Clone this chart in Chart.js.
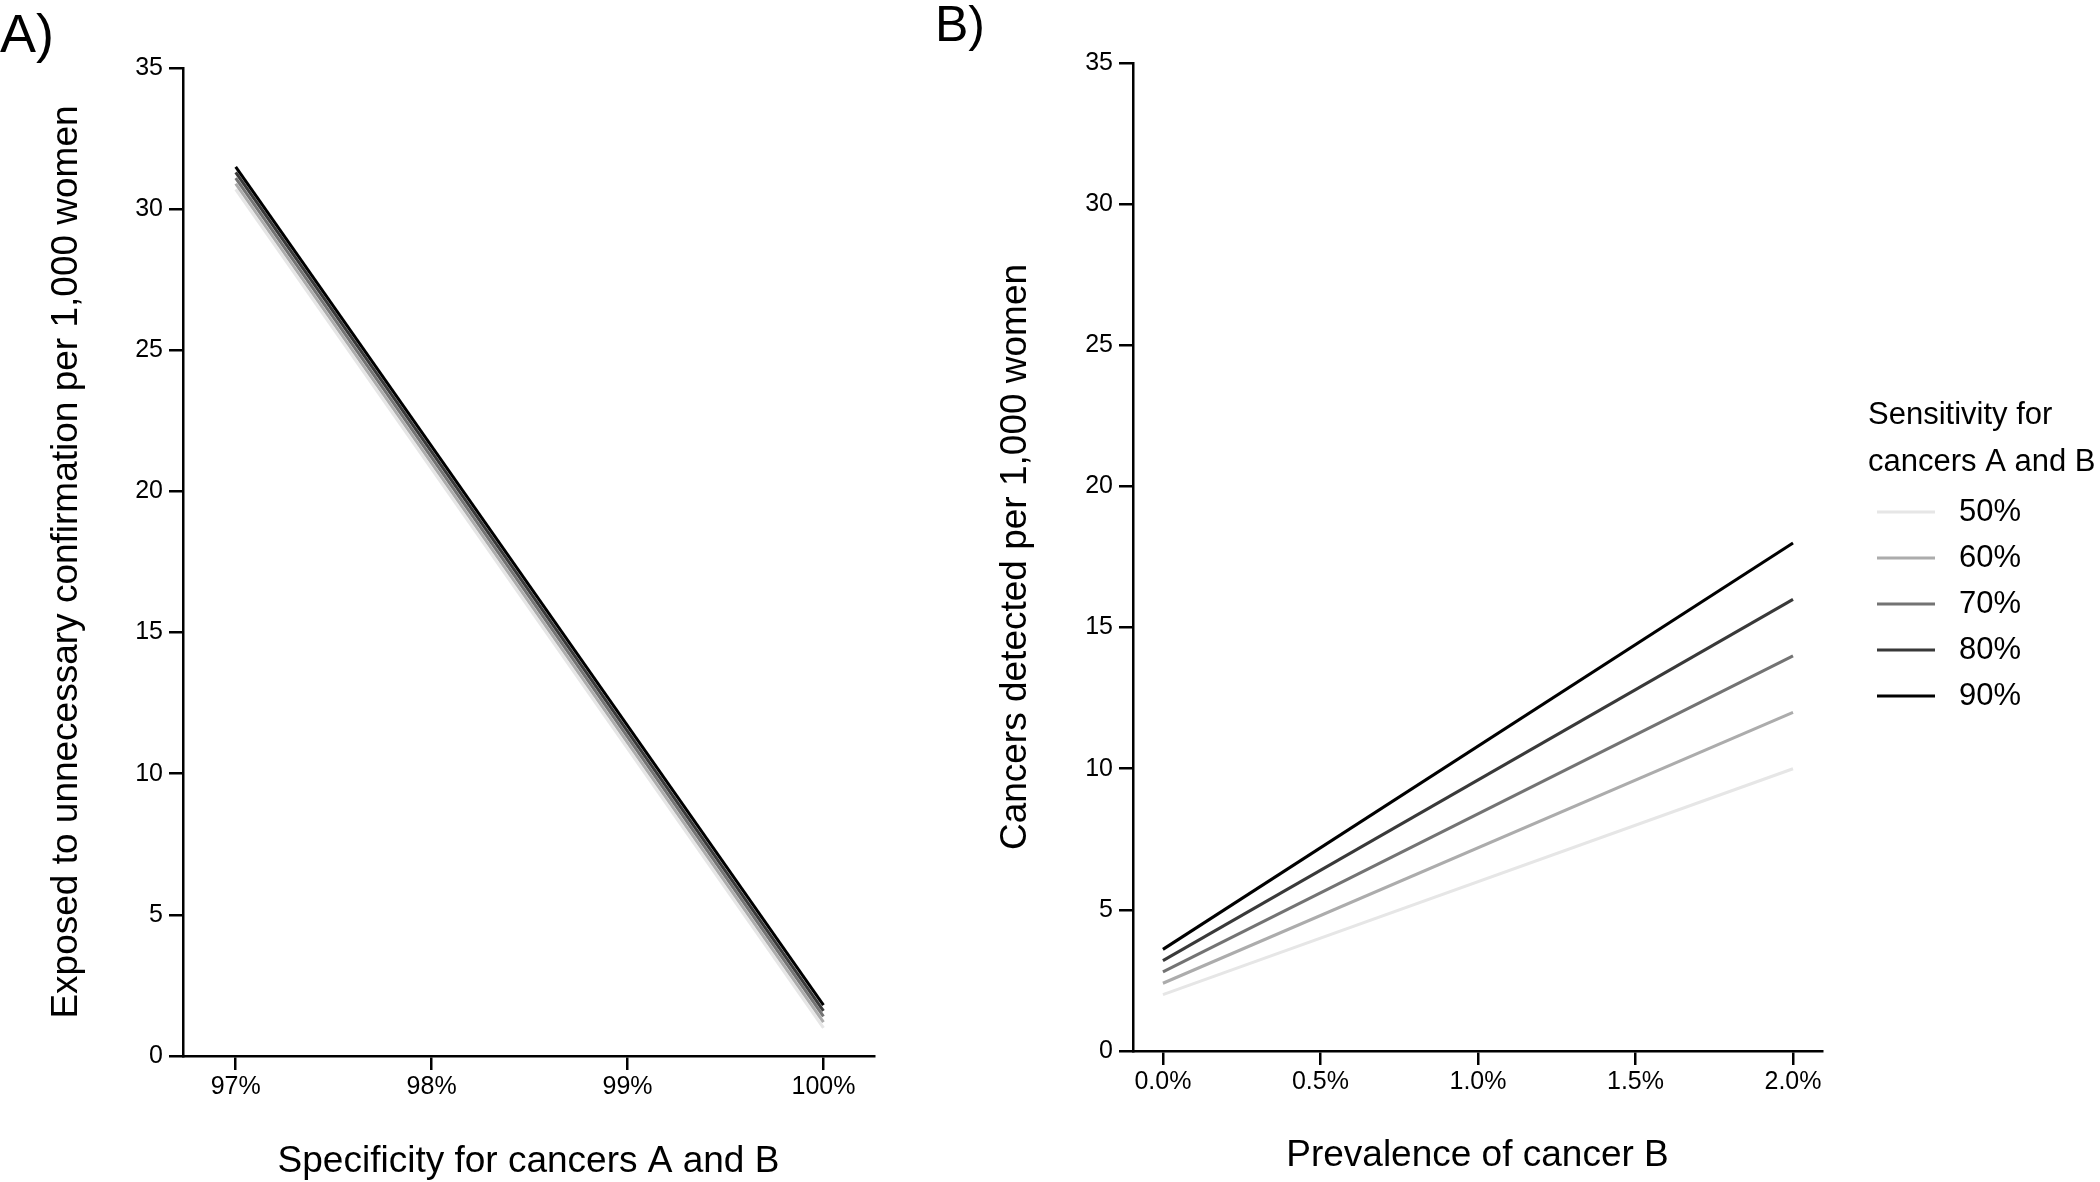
<!DOCTYPE html>
<html>
<head>
<meta charset="utf-8">
<script src="https://cdn.jsdelivr.net/npm/chart.js@4"></script>
<style>
  body { margin: 0; background: #fff; width: 2100px; height: 1182px; position: relative; overflow: hidden;
         font-family: "Liberation Sans", Arial, sans-serif; }
  canvas { position: absolute; top: 0; }
  #chartA { left: 0; }
  #chartB { left: 900px; }
  .panel { position: absolute; line-height: 1; color: #000; }
</style>
</head>
<body>
<div class="panel" style="left:0; top:6px; font-size:54px;">A)</div>
<div class="panel" style="left:935px; top:-1px; font-size:50px;">B)</div>
<canvas id="chartA" width="900" height="1184"></canvas>
<canvas id="chartB" width="1200" height="1182"></canvas>
<script>
// sensitivity groups (legend)
const sensitivity = ['50%', '60%', '70%', '80%', '90%'];
const greys = ['#e6e6e6', '#acacac', '#737373', '#393939', '#000000'];

// panel A: specificity vs exposed to unnecessary confirmation
const specificity = [97, 100];
const exposed50 = [30.7, 1.0];
const exposed60 = [30.9, 1.2];
const exposed70 = [31.1, 1.4];
const exposed80 = [31.3, 1.6];
const exposed90 = [31.5, 1.8];

// panel B: prevalence of cancer B vs cancers detected
const prevalence = [0, 2];
const detected50 = [2.0, 10.0];
const detected60 = [2.4, 12.0];
const detected70 = [2.8, 14.0];
const detected80 = [3.2, 16.0];
const detected90 = [3.6, 18.0];

const xTicksA = [97, 98, 99, 100];
const xTicksB = [0, 0.5, 1, 1.5, 2];
const yTicks = [0, 5, 10, 15, 20, 25, 30, 35];

const FONT = '"Liberation Sans", Arial, sans-serif';

function makeDatasets(xs, seriesList) {
  return seriesList.map((ys, i) => ({
    label: sensitivity[i],
    data: xs.map((x, j) => ({ x: x, y: ys[j] })),
    borderColor: greys[i],
    backgroundColor: greys[i],
    borderWidth: 3,
    pointRadius: 0,
    tension: 0,
    fill: false,
    order: sensitivity.length - i
  }));
}

function axisStyle() {
  return {
    border: { display: true, color: '#000', width: 2.5 },
    grid: { display: true, drawOnChartArea: false, drawTicks: true, tickLength: 14, color: '#000', lineWidth: 2.5 }
  };
}

function makeOptions(cfg) {
  return {
    responsive: false,
    animation: false,
    layout: { padding: cfg.padding },
    plugins: { legend: { display: false }, tooltip: { enabled: false } },
    scales: {
      x: Object.assign(axisStyle(), {
        type: 'linear',
        min: cfg.xMin,
        max: cfg.xMax,
        afterBuildTicks: s => { s.ticks = cfg.xTicks.map(v => ({ value: v })); },
        afterFit: s => { s.height = cfg.xHeight; },
        ticks: { autoSkip: false, maxRotation: 0, padding: 2, color: '#000',
                 font: { family: FONT, size: 25 }, callback: cfg.xFormat },
        title: { display: true, text: cfg.xTitle, color: '#000',
                 font: { family: FONT, size: 37 }, padding: { top: 0, bottom: cfg.xTitlePad } }
      }),
      y: Object.assign(axisStyle(), {
        type: 'linear',
        min: 0,
        max: 35,
        afterBuildTicks: s => { s.ticks = yTicks.map(v => ({ value: v })); },
        afterFit: s => { s.width = cfg.yWidth; },
        ticks: { padding: 6, color: '#000', font: { family: FONT, size: 25 } },
        title: { display: true, text: cfg.yTitle, color: '#000',
                 font: { family: FONT, size: 37 }, padding: { top: cfg.yTitlePad, bottom: 0 } }
      })
    }
  };
}

new Chart(document.getElementById('chartA'), {
  type: 'line',
  data: { datasets: makeDatasets(specificity, [exposed50, exposed60, exposed70, exposed80, exposed90]) },
  options: makeOptions({
    padding: { left: 0, top: 68, right: 26, bottom: 0 },
    xMin: 96.731, xMax: 100.258, xTicks: xTicksA, xHeight: 128, yWidth: 183,
    xFormat: v => v + '%',
    xTitle: 'Specificity for cancers A and B', xTitlePad: 0,
    yTitle: 'Exposed to unnecessary confirmation per 1,000 women', yTitlePad: 45
  })
});

// legend drawn to the right of panel B
const legendB = {
  id: 'legendB',
  afterDraw(chart) {
    const ctx = chart.ctx;
    ctx.save();
    ctx.fillStyle = '#000';
    ctx.font = '31px ' + FONT;
    ctx.textBaseline = 'middle';
    ctx.textAlign = 'left';
    ctx.fillText('Sensitivity for', 968, 415);
    ctx.fillText('cancers A and B', 968, 462);
    chart.data.datasets.forEach((ds, i) => {
      const y = 512 + i * 46;
      ctx.strokeStyle = ds.borderColor;
      ctx.lineWidth = 3;
      ctx.beginPath();
      ctx.moveTo(977, y);
      ctx.lineTo(1035, y);
      ctx.stroke();
      ctx.fillText(ds.label, 1059, y);
    });
    ctx.restore();
  }
};

new Chart(document.getElementById('chartB'), {
  type: 'line',
  data: { datasets: makeDatasets(prevalence, [detected50, detected60, detected70, detected80, detected90]) },
  options: makeOptions({
    padding: { left: 48, top: 63, right: 278, bottom: 0 },
    xMin: -0.095, xMax: 2.092, xTicks: xTicksB, xHeight: 131, yWidth: 185,
    xFormat: v => v.toFixed(1) + '%',
    xTitle: 'Prevalence of cancer B', xTitlePad: 4,
    yTitle: 'Cancers detected per 1,000 women', yTitlePad: 46
  }),
  plugins: [legendB]
});
</script>
</body>
</html>
